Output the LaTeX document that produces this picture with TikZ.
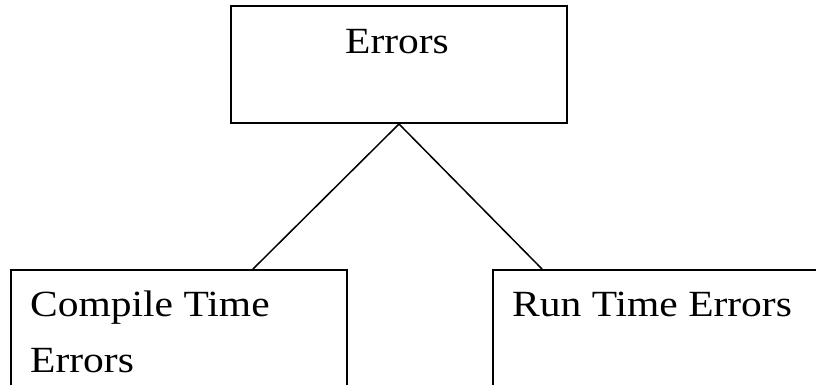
\documentclass[tikz,border=0pt]{standalone}
\usepackage{fontspec}
\setmainfont{Liberation Serif}
\usepackage{graphicx}

\newcommand{\flatText}[1]{\scalebox{1}[0.89]{#1}}

\begin{document}
\begin{tikzpicture}[x=1pt,y=-1pt,
	box/.style={draw, line width=2pt, inner sep=0pt},
	boxtext/.style={inner sep=0pt, font=\fontsize{41.5}{44}\selectfont}]
	\useasboundingbox (0,0) rectangle (816,384);
	\clip (0,0) rectangle (816,384);

	\node[box, minimum width=336pt, minimum height=117pt, anchor=north west] (errors) at (230,5) {};
	\node[box, minimum width=336pt, minimum height=140pt, anchor=north west] (compile) at (10,269) {};
	\node[box, minimum width=340pt, minimum height=140pt, anchor=north west] (runtime) at (492,269) {};

	\node[boxtext, anchor=base] (errorsText) at (397,53) {\flatText{Errors}};
	\node[boxtext, anchor=base west] (compileText) at (30,316) {\flatText{Compile Time}};
	\node[boxtext, anchor=base west] (compileText2) at (30,372) {\flatText{Errors}};
	\node[boxtext, anchor=base west] (runText) at (512,316) {\flatText{Run Time Errors}};

	\path [-, line width=1.5pt]
	(errors.south) edge ([xshift=243pt]compile.north west)
	(errors.south) edge ([xshift=50pt]runtime.north west);
\end{tikzpicture}
\end{document}
